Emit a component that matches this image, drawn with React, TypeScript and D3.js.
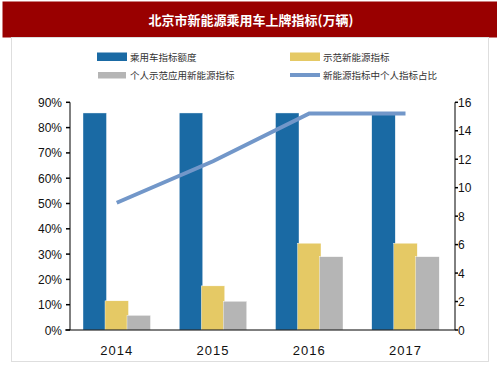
import React from "react";
import * as d3 from "d3";

const years = ["2014", "2015", "2016", "2017"];
const quota = [15.25, 15.25, 15.25, 15.25];
const newEnergy = [2.05, 3.1, 6.1, 6.1];
const personalNewEnergy = [1.03, 2.02, 5.15, 5.15];
const personalShare = [50.3, 66.7, 85.6, 85.6];
const leftTicks = [0, 10, 20, 30, 40, 50, 60, 70, 80, 90];
const rightTicks = [0, 2, 4, 6, 8, 10, 12, 14, 16];
const seriesNames = ["乘用车指标额度", "示范新能源指标", "个人示范应用新能源指标", "新能源指标中个人指标占比"];
const title = "北京市新能源乘用车上牌指标(万辆)";

const W = 503, H = 378;
const plotL = 70, plotR = 455, plotT = 102.3, plotB = 330;
const colors = ["#1a6aa4", "#e5c965", "#b5b5b5", "#7297c9"];
const font = "'Liberation Sans', Arial, sans-serif";
const cjk = "'Noto Sans CJK SC', sans-serif";

export default function App() {
  const x = d3.scaleBand().domain(years).range([plotL, plotR]).paddingInner(0).paddingOuter(0);
  const yL = d3.scaleLinear().domain([0, 90]).range([plotB, plotT]);
  const yR = d3.scaleLinear().domain([0, 16]).range([plotB, plotT]);
  const barW = 23.5, step = 22, off = 13;
  const series = [quota, newEnergy, personalNewEnergy];
  const center = (y: string) => (x(y) as number) + off + step + barW / 2;
  const line = d3.line<number>().x((_, i) => center(years[i])).y((d) => yL(d));

  return (
    <svg width={W} height={H} style={{ position: "absolute", left: 0, top: 0, background: "#fff" }}>
      <rect x={0} y={0} width={W} height={H} fill="#fff" />
      <rect x={2.5} y={1.5} width={494.5} height={36} fill="#990000" />
      <text x={251} y={25} textAnchor="middle" fill="#fff" fontFamily={cjk} fontWeight="bold" fontSize={13}>{title}</text>
      <rect x={11.5} y={37.5} width={477} height={324} fill="#fff" stroke="#dedede" strokeWidth={1} />

      {/* legend */}
      <g fontFamily={cjk} fontSize={9.5} fill="#333" letterSpacing={0}>
        <rect x={97} y={52.5} width={30} height={8.5} fill={colors[0]} />
        <text x={130} y={60.5}>{seriesNames[0]}</text>
        <rect x={290} y={52.5} width={30} height={8.5} fill={colors[1]} />
        <text x={323} y={60.5}>{seriesNames[1]}</text>
        <rect x={98} y={72} width={28} height={6.5} fill={colors[2]} />
        <text x={130} y={79}>{seriesNames[2]}</text>
        <rect x={290} y={73} width={30} height={4} fill={colors[3]} />
        <text x={323} y={79}>{seriesNames[3]}</text>
      </g>

      {/* bars */}
      {series.map((vals, si) =>
        vals.map((v, i) => (
          <rect key={`${si}-${i}`} x={(x(years[i]) as number) + off + si * step} y={yR(v)} width={barW}
            height={plotB - yR(v)} fill={colors[si]} stroke="#fff" strokeWidth={0.4} />
        ))
      )}

      {/* line */}
      <path d={line(personalShare) || ""} fill="none" stroke={colors[3]} strokeWidth={4} />

      {/* axes */}
      <g stroke="#000" strokeWidth={1}>
        <line x1={plotL} x2={plotL} y1={plotT} y2={plotB} />
        <line x1={plotR} x2={plotR} y1={plotT} y2={plotB} />
        <line x1={65} x2={plotR} y1={plotB} y2={plotB} />
        {leftTicks.map((t) => (
          <line key={t} x1={66} x2={plotL} y1={yL(t)} y2={yL(t)} strokeWidth={1.5} />
        ))}
        {rightTicks.map((t) => (
          <line key={t} x1={plotR} x2={plotR + 3} y1={yR(t)} y2={yR(t)} strokeWidth={1.5} />
        ))}
      </g>
      <g fontFamily={font} fontSize={12} fill="#111">
        {leftTicks.map((t) => (
          <text key={t} x={62} y={yL(t) + 4.5} textAnchor="end">{t}%</text>
        ))}
        {rightTicks.map((t) => (
          <text key={t} x={458} y={yR(t) + 4.5}>{t}</text>
        ))}
      </g>
      <g fontFamily={font} fontSize={13} fill="#111" letterSpacing={1}>
        {years.map((yr) => (
          <text key={yr} x={center(yr)} y={355} textAnchor="middle">{yr}</text>
        ))}
      </g>
    </svg>
  );
}
